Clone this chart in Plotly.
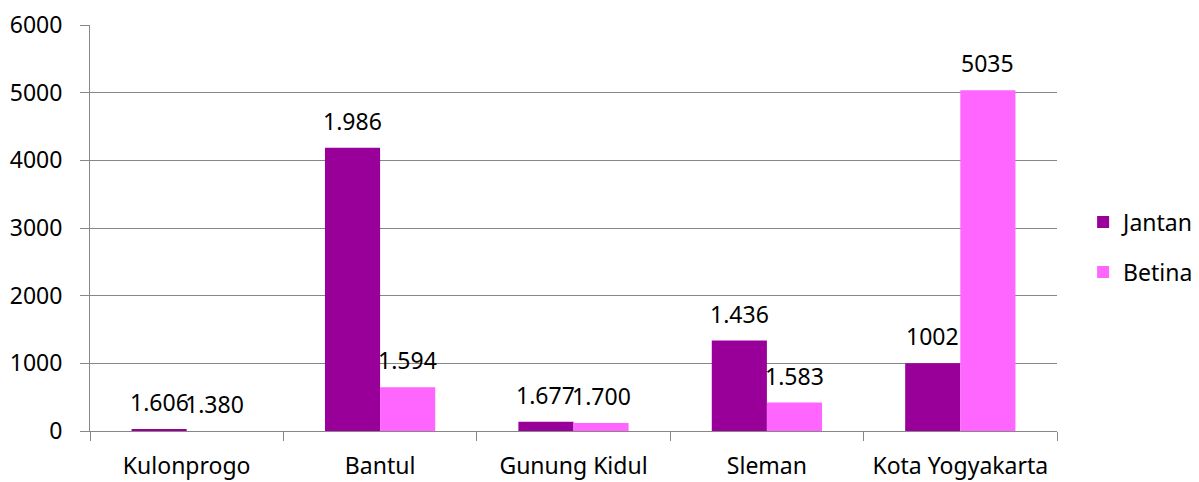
import plotly.graph_objects as go

categories = ["Kulonprogo", "Bantul", "Gunung Kidul", "Sleman", "Kota Yogyakarta"]
jantan_values = [25, 4185, 135, 1337, 1002]
betina_values = [0, 648, 120, 420, 5035]
jantan_labels = ["1.606", "1.986", "1.677", "1.436", "1002"]
betina_labels = ["1.380", "1.594", "1.700", "1.583", "5035"]
y_ticks = [0, 1000, 2000, 3000, 4000, 5000, 6000]

JANTAN_COLOR = "#990099"
BETINA_COLOR = "#FF66FF"
GRID = "#878787"
FONT = "Noto Sans"
FS = 23
BARGAP = 0.43

fig = go.Figure()
fig.add_trace(go.Bar(name="Jantan", x=categories, y=jantan_values,
                     marker=dict(color=JANTAN_COLOR, line=dict(width=0)),
                     legendgroup="j"))
fig.add_trace(go.Bar(name="Betina", x=categories, y=betina_values,
                     marker=dict(color=BETINA_COLOR, line=dict(width=0)),
                     legendgroup="b"))

half = (1 - BARGAP) / 4
annotations = []
for i, cat in enumerate(categories):
    for val, lab, sign in ((jantan_values[i], jantan_labels[i], -1),
                           (betina_values[i], betina_labels[i], 1)):
        annotations.append(dict(
            x=i + sign * half, y=val, xref="x", yref="y",
            text=lab, showarrow=False, yanchor="bottom", xanchor="center",
            yshift=9, font=dict(family=FONT, size=FS, color="#000000")))

# page has an 8px body margin, so the figure is drawn 8px in from the corner
fig.update_layout(
    barmode="group", bargap=BARGAP, bargroupgap=0,
    width=1191, height=474,
    margin=dict(l=82, r=142, t=16.5, b=50.5, pad=0, autoexpand=False),
    paper_bgcolor="white", plot_bgcolor="white",
    font=dict(family=FONT, size=FS, color="#000000"),
    annotations=annotations,
    legend=dict(x=1.027, y=0.453, xanchor="left", yanchor="middle",
                font=dict(family=FONT, size=FS, color="#000000"),
                tracegroupgap=17, bgcolor="rgba(0,0,0,0)"),
    xaxis=dict(type="category", showline=True, linecolor=GRID, linewidth=1,
               ticks="outside", ticklen=9, tickcolor=GRID, tickson="boundaries",
               showgrid=False, ticklabelstandoff=14, automargin=False,
               tickfont=dict(family=FONT, size=FS, color="#000000")),
    yaxis=dict(range=[0, 6000], tickvals=y_ticks, showline=True, linecolor=GRID,
               linewidth=1, ticks="outside", ticklen=9, tickcolor=GRID,
               showgrid=True, gridcolor=GRID, gridwidth=1, zeroline=False,
               ticklabelstandoff=13, automargin=False,
               tickfont=dict(family=FONT, size=FS, color="#000000")),
)

fig.write_html("out.html")
